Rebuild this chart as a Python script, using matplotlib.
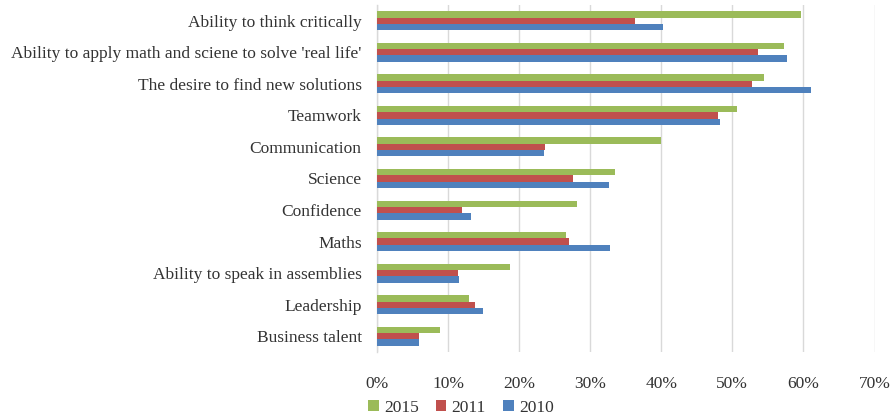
import matplotlib
matplotlib.use("Agg")
import matplotlib.pyplot as plt
import numpy as np
from matplotlib.ticker import PercentFormatter

categories = [
    "Ability to think critically",
    "Ability to apply math and sciene to solve 'real life'",
    "The desire to find new solutions",
    "Teamwork",
    "Communication",
    "Science",
    "Confidence",
    "Maths",
    "Ability to speak in assemblies",
    "Leadership",
    "Business talent",
]
series_names = ["2015", "2011", "2010"]
values_2015 = [59.6, 57.3, 54.4, 50.7, 40.0, 33.5, 28.1, 26.6, 18.7, 12.9, 8.9]
values_2011 = [36.3, 53.6, 52.8, 48.0, 23.7, 27.6, 11.9, 27.0, 11.4, 13.8, 5.9]
values_2010 = [40.2, 57.7, 61.0, 48.3, 23.5, 32.7, 13.2, 32.8, 11.6, 14.9, 5.9]
x_ticks = [0, 10, 20, 30, 40, 50, 60, 70]

colors = ["#9BBB59", "#C0504D", "#4F81BD"]
text_color = "#333333"
font = ["Liberation Serif", "DejaVu Serif"]

fig = plt.figure(figsize=(8.96, 4.18), dpi=100)
ax = fig.add_axes([377 / 896, 1 - 352 / 418, (874.5 - 377) / 896, (352 - 5) / 418])

y = np.arange(len(categories))
h = 0.2
for off, vals, col, name in zip([-h, 0, h], [values_2015, values_2011, values_2010],
                                colors, series_names):
    ax.barh(y + off, vals, height=h, color=col, label=name, zorder=3)

ax.set_ylim(len(categories) - 0.5, -0.5)
ax.set_xlim(0, 70)
ax.set_xticks(x_ticks)
ax.xaxis.set_major_formatter(PercentFormatter(decimals=0))
ax.set_yticks(y)
ax.set_yticklabels(categories)

ax.grid(axis="x", color="#D9D9D9", linewidth=1.0, zorder=0)
ax.grid(axis="y", visible=False)
for s in ["top", "right", "bottom"]:
    ax.spines[s].set_visible(False)
ax.spines["left"].set_color("#D9D9D9")
ax.spines["left"].set_linewidth(1.0)

ax.tick_params(axis="both", length=0, colors=text_color, labelsize=12.5)
ax.tick_params(axis="y", pad=11)
ax.tick_params(axis="x", pad=17)
for lbl in ax.get_xticklabels() + ax.get_yticklabels():
    lbl.set_fontfamily(font)

leg = fig.legend(loc="center", bbox_to_anchor=(461 / 896, 1 - 408 / 418), ncol=3,
                 frameon=False, handlelength=0.6, handleheight=0.6, handletextpad=0.3,
                 columnspacing=1.0, prop={"family": font, "size": 12.5})
for t in leg.get_texts():
    t.set_color(text_color)

fig.savefig("out.png", dpi=100)
